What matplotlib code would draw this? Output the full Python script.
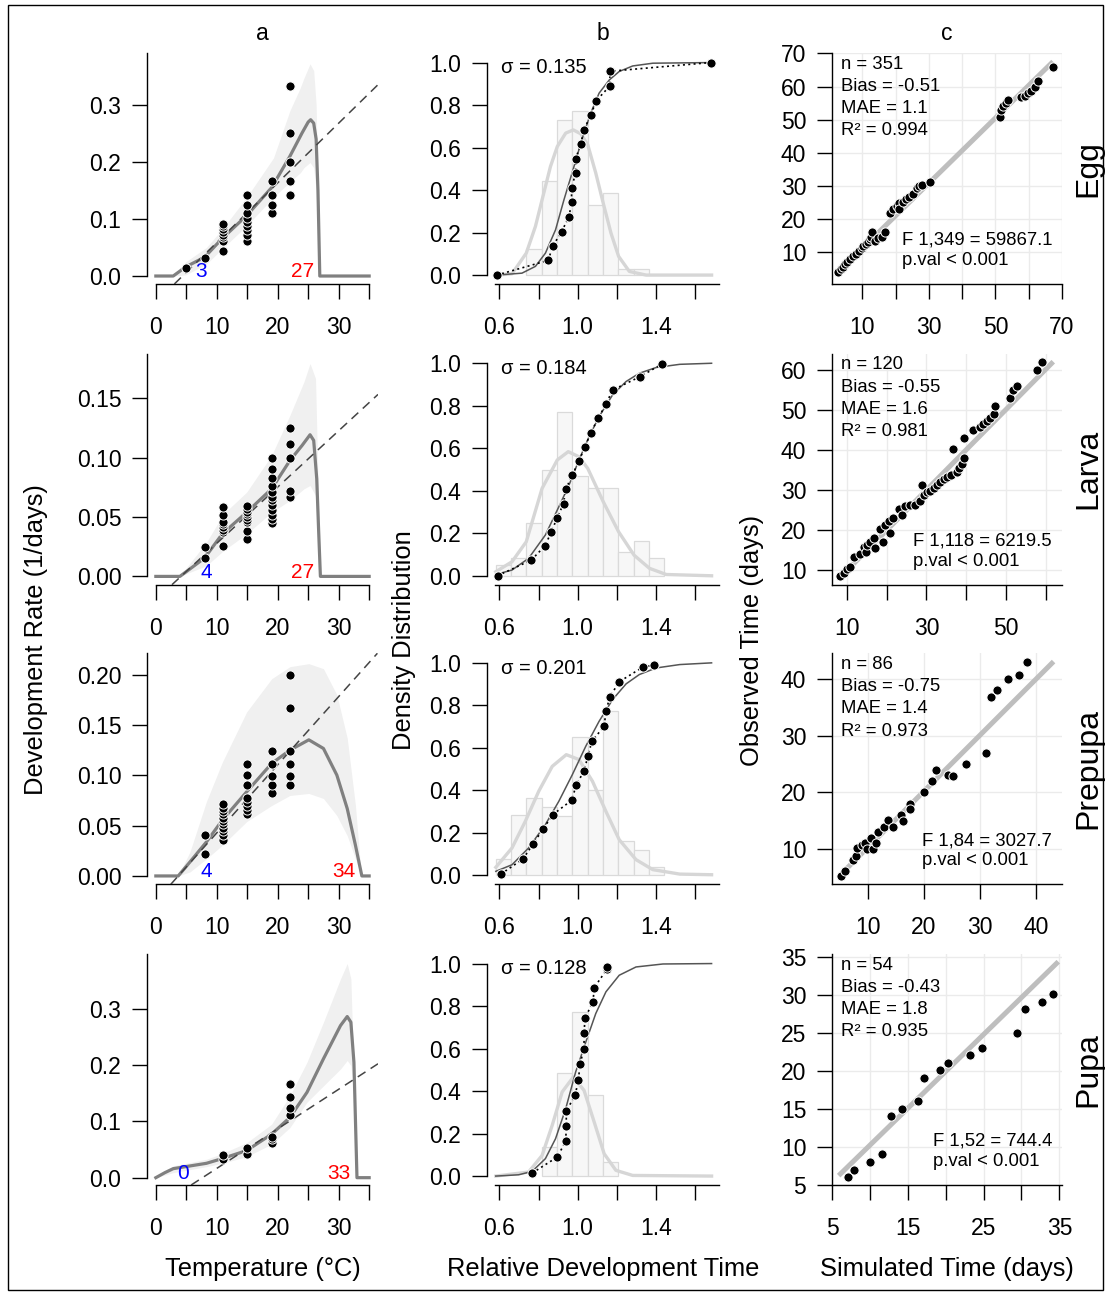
import matplotlib
matplotlib.use("Agg")
import matplotlib.pyplot as plt
from matplotlib.patches import Rectangle

plt.rcParams['font.family'] = ['Liberation Sans', 'DejaVu Sans']

stages = ["Egg", "Larva", "Prepupa", "Pupa"]

# ---------------------------------------------------------------- a: rate vs temperature
obs_temps = [
    [5, 8, 11, 15, 19, 22],
    [8, 11, 15, 19, 22],
    [8, 11, 15, 19, 22],
    [11, 15, 19, 22],
]
obs_rates = [
    [[0.0145], [0.031],
     [0.043, 0.062, 0.068, 0.072, 0.077, 0.082, 0.087, 0.092],
     [0.062, 0.072, 0.080, 0.087, 0.094, 0.101, 0.110, 0.124, 0.142],
     [0.110, 0.124, 0.142, 0.167],
     [0.142, 0.167, 0.2, 0.25, 0.334]],
    [[0.0155, 0.025],
     [0.0259, 0.0372, 0.0394, 0.0417, 0.0439, 0.0462, 0.0521, 0.0586],
     [0.0315, 0.038, 0.0456, 0.0479, 0.0501, 0.0524, 0.0546, 0.0569, 0.0592],
     [0.0448, 0.0485, 0.0518, 0.0558, 0.0603, 0.064, 0.0668, 0.071, 0.0766, 0.0831, 0.0907, 0.1],
     [0.0665, 0.0718, 0.1, 0.1113, 0.1254]],
    [[0.0222, 0.0405],
     [0.0362, 0.0411, 0.0448, 0.048, 0.0514, 0.0547, 0.058, 0.0614, 0.0647, 0.068, 0.072],
     [0.0614, 0.0657, 0.0697, 0.0736, 0.077, 0.0905, 0.1, 0.111],
     [0.0826, 0.0905, 0.0995, 0.111, 0.124],
     [0.0905, 0.0995, 0.111, 0.124, 0.1665, 0.2]],
    [[0.0327, 0.0398],
     [0.0428, 0.0535],
     [0.0624, 0.0695, 0.073],
     [0.1105, 0.124, 0.1426, 0.166]],
]

model_t = [
    [0, 2.85, 4.9, 8.0, 10.9, 14.9, 19.0, 22.0, 24.0, 25.0, 25.4, 25.9, 26.3, 26.6, 26.9, 35],
    [0, 3.95, 8.0, 10.9, 14.9, 19.0, 22.0, 24.0, 25.3, 25.9, 26.4, 26.7, 27.0, 35],
    [0, 3.67, 5.6, 8.3, 10.9, 14.9, 19.0, 22.0, 25.1, 27.5, 29.7, 31.4, 32.75, 33.8, 35],
    [0, 1.5, 2.85, 5.6, 8.3, 10.9, 14.9, 19.0, 22.0, 24.8, 27.5, 30.3, 31.4, 32.0, 32.5, 33.0, 35],
]
model_r = [
    [0, 0, 0.016, 0.033, 0.066, 0.106, 0.155, 0.21, 0.251, 0.27, 0.274, 0.268, 0.24, 0.15, 0, 0],
    [0, 0, 0.0155, 0.0358, 0.054, 0.0738, 0.0977, 0.1104, 0.1194, 0.1146, 0.0823, 0.04, 0, 0],
    [0, 0, 0.0139, 0.0338, 0.0554, 0.0836, 0.1118, 0.125, 0.1353, 0.1267, 0.1002, 0.067, 0.0305, 0, 0],
    [0, 0.009, 0.016, 0.0208, 0.0255, 0.0339, 0.0481, 0.0772, 0.107, 0.1515, 0.211, 0.27, 0.286, 0.276, 0.205, 0, 0],
]
band_t = [
    [2.85, 4.9, 8.3, 11.1, 14.9, 19.3, 22.0, 23.7, 24.3, 25.3, 25.9, 26.3, 26.7, 26.9],
    [3.9, 8.3, 11.1, 14.9, 19.0, 22.0, 24.3, 25.3, 26.2, 26.6, 27.0],
    [3.67, 5.6, 8.3, 10.9, 14.9, 19.0, 22.0, 25.1, 27.5, 29.7, 31.4, 32.75, 33.7],
    [0, 2.85, 8.3, 10.9, 14.9, 19.0, 22.0, 24.8, 27.5, 30.3, 31.4, 32.0, 32.5, 32.9],
]
band_lo = [
    [0, 0.002, 0.021, 0.05, 0.088, 0.138, 0.165, 0.181, 0.19, 0.199, 0.19, 0.15, 0.02, 0],
    [0, 0.009, 0.0217, 0.0358, 0.054, 0.064, 0.0738, 0.0766, 0.068, 0.026, 0],
    [0, 0.004, 0.017, 0.0305, 0.054, 0.07, 0.08, 0.082, 0.077, 0.06, 0.04, 0.017, 0],
    [0, 0.009, 0.0196, 0.0255, 0.0374, 0.0594, 0.089, 0.134, 0.163, 0.193, 0.208, 0.199, 0.146, 0],
]
band_hi = [
    [0, 0.025, 0.05, 0.085, 0.138, 0.207, 0.29, 0.33, 0.347, 0.372, 0.36, 0.3, 0.1, 0],
    [0, 0.0287, 0.0527, 0.071, 0.102, 0.1358, 0.164, 0.1794, 0.1668, 0.0823, 0],
    [0, 0.024, 0.074, 0.113, 0.163, 0.196, 0.208, 0.211, 0.206, 0.18, 0.137, 0.07, 0],
    [0, 0.021, 0.0327, 0.043, 0.062, 0.095, 0.1456, 0.205, 0.276, 0.353, 0.38, 0.353, 0.175, 0],
]
lin_t0 = [4.38, 4.12, 3.68, 7.65]
lin_slope = [0.01046, 0.004744, 0.006774, 0.00702]
t_low = ["3", "4", "4", "0"]
t_high = ["27", "27", "34", "33"]

# ---------------------------------------------------------------- b: relative development time
bin_edges = [0.58, 0.659, 0.737, 0.816, 0.894, 0.973, 1.051, 1.13, 1.208, 1.287, 1.365, 1.444]
hist_h = [
    [0, 0, 0.122, 0.444, 0.73, 0.773, 0.328, 0.384, 0.028, 0.028, 0],
    [0.053, 0.082, 0.246, 0.498, 0.772, 0.469, 0.411, 0.411, 0.11, 0.163, 0.082],
    [0.078, 0.283, 0.364, 0.322, 0.281, 0.65, 0.403, 0.772, 0.16, 0.118, 0.038],
    [0, 0, 0, 0.137, 0.487, 0.77, 0.383, 0.066, 0, 0, 0],
]
norm_x = [
    [0.586, 0.664, 0.737, 0.784, 0.818, 0.861, 0.896, 0.939, 0.978, 1.016, 1.052, 1.093, 1.131, 1.171, 1.21, 1.265, 1.351, 1.686],
    [0.581, 0.664, 0.737, 0.818, 0.896, 0.952, 1.007, 1.052, 1.131, 1.21, 1.289, 1.368, 1.454, 1.686],
    [0.581, 0.664, 0.732, 0.801, 0.87, 0.942, 1.007, 1.076, 1.145, 1.213, 1.299, 1.385, 1.523, 1.686],
    [0.581, 0.749, 0.818, 0.87, 0.921, 0.978, 1.033, 1.085, 1.136, 1.196, 1.282, 1.686],
]
norm_y = [
    [0, 0.006, 0.103, 0.229, 0.354, 0.511, 0.605, 0.668, 0.683, 0.665, 0.613, 0.48, 0.339, 0.197, 0.088, 0.017, 0, 0],
    [0.019, 0.066, 0.16, 0.411, 0.545, 0.584, 0.56, 0.505, 0.349, 0.207, 0.097, 0.035, 0.006, 0],
    [0.038, 0.129, 0.254, 0.396, 0.513, 0.568, 0.545, 0.443, 0.301, 0.168, 0.074, 0.027, 0.006, 0.003],
    [0, 0.019, 0.097, 0.239, 0.396, 0.466, 0.403, 0.254, 0.105, 0.027, 0.003, 0],
]
cdf_x = [
    [0.586, 0.715, 0.784, 0.835, 0.887, 0.93, 0.978, 1.024, 1.067, 1.11, 1.162, 1.213, 1.282, 1.385, 1.686],
    [0.581, 0.664, 0.749, 0.835, 0.904, 0.956, 1.007, 1.059, 1.11, 1.179, 1.248, 1.316, 1.402, 1.523, 1.686],
    [0.581, 0.664, 0.749, 0.835, 0.904, 0.973, 1.042, 1.11, 1.179, 1.248, 1.316, 1.402, 1.523, 1.686],
    [0.581, 0.698, 0.767, 0.835, 0.887, 0.939, 0.99, 1.042, 1.093, 1.145, 1.213, 1.299, 1.437, 1.686],
]
cdf_y = [
    [0, 0.009, 0.041, 0.103, 0.213, 0.354, 0.5, 0.644, 0.762, 0.856, 0.918, 0.958, 0.984, 0.997, 1.0],
    [0.006, 0.027, 0.082, 0.192, 0.325, 0.427, 0.545, 0.655, 0.749, 0.851, 0.914, 0.953, 0.98, 0.995, 1.0],
    [0.019, 0.05, 0.129, 0.239, 0.349, 0.474, 0.608, 0.725, 0.827, 0.901, 0.945, 0.976, 0.992, 1.0],
    [0, 0.006, 0.022, 0.082, 0.176, 0.317, 0.49, 0.631, 0.765, 0.867, 0.945, 0.984, 0.998, 1.0],
]
emp_x = [
    [0.586, 0.849, 0.873, 0.918, 0.956, 0.969, 0.969, 0.99, 0.99, 1.016, 1.033, 1.067, 1.096, 1.165, 1.165, 1.681],
    [0.59, 0.763, 0.832, 0.866, 0.895, 0.928, 0.939, 0.973, 1.007, 1.038, 1.068, 1.105, 1.145, 1.179, 1.32, 1.433],
    [0.607, 0.72, 0.772, 0.823, 0.873, 0.969, 0.993, 1.033, 1.054, 1.073, 1.136, 1.145, 1.165, 1.213, 1.334, 1.39],
    [0.767, 0.895, 0.939, 0.942, 0.942, 0.987, 1.004, 1.012, 1.033, 1.033, 1.038, 1.079, 1.085, 1.15, 1.15],
]
emp_y = [
    [0, 0.069, 0.136, 0.205, 0.274, 0.343, 0.411, 0.48, 0.547, 0.616, 0.685, 0.752, 0.821, 0.89, 0.959, 1.0],
    [0, 0.074, 0.14, 0.207, 0.273, 0.339, 0.407, 0.474, 0.54, 0.608, 0.673, 0.741, 0.807, 0.874, 0.937, 0.997],
    [0.006, 0.077, 0.148, 0.218, 0.286, 0.353, 0.424, 0.493, 0.564, 0.631, 0.702, 0.772, 0.84, 0.911, 0.98, 0.989],
    [0.014, 0.089, 0.163, 0.234, 0.306, 0.38, 0.45, 0.526, 0.6, 0.673, 0.744, 0.82, 0.887, 0.973, 0.984],
]
sigmas = ["0.135", "0.184", "0.201", "0.128"]

# ---------------------------------------------------------------- c: simulated vs observed
sim_time = [
    [2.8, 3.5, 4.1, 4.8, 5.5, 6.3, 7.3, 8.1, 9.1, 9.8, 10.3, 11.1, 11.8, 12.3, 12.5, 12.8, 13.8, 14.8, 15.8, 16.8,
     18.3, 19.3, 20.3, 21.1, 21.1, 22.1, 23.1, 24.1, 25.1, 26.3, 27.1, 27.8, 30.3,
     51.3, 51.8, 52.3, 53.1, 53.9, 57.8, 58.8, 59.8, 60.8, 61.8, 62.8, 67.3],
    [8.3, 9.3, 10.0, 10.8, 11.7, 13.2, 14.2, 14.9, 15.0, 15.9, 16.7, 17.1, 18.2, 19.2, 19.6, 20.7, 20.9, 21.7,
     23.0, 23.8, 24.7, 25.9, 27.2, 28.4, 28.8, 29.4, 30.1, 30.9, 31.8, 32.6, 33.5, 34.3, 35.1, 36.1, 36.8,
     37.6, 38.3, 38.9, 39.5, 39.5, 41.7, 43.5, 44.3, 45.2, 46.0, 46.9, 47.3, 51.0, 51.7, 52.7, 57.9, 59.0],
    [5.19, 5.96, 7.33, 7.92, 8.16, 8.93, 9.52, 9.82, 10.53, 10.89, 11.49, 11.9, 12.91, 13.68, 14.58, 15.88,
     16.36, 17.55, 17.55, 20.04, 21.41, 22.12, 24.38, 25.27, 27.47, 31.03, 31.93, 33.0, 34.96, 36.92, 38.34],
    [7.11, 7.85, 10.05, 11.59, 12.82, 14.27, 16.29, 17.17, 19.19, 20.37, 23.23, 24.76, 29.37, 30.47, 32.67, 34.12],
]
obs_time = [
    [4.0, 5.0, 5.7, 6.5, 7.2, 8.0, 9.0, 9.5, 10.5, 11.2, 11.8, 12.5, 13.2, 14.0, 14.8, 16.2, 13.5, 14.5, 14.8, 16.2,
     22.0, 23.0, 24.0, 24.8, 23.2, 25.2, 26.0, 26.8, 27.5, 29.5, 30.0, 30.4, 31.2,
     50.8, 53.0, 54.2, 55.0, 55.8, 56.8, 57.2, 58.0, 58.8, 60.0, 61.8, 65.8],
    [8.5, 9.3, 10.3, 10.6, 13.1, 13.9, 15.6, 14.4, 16.2, 16.9, 17.9, 15.4, 20.2, 17.0, 21.1, 22.1, 19.1, 23.0,
     25.1, 23.6, 25.9, 26.2, 26.2, 27.1, 31.1, 28.6, 29.4, 29.8, 30.4, 31.1, 31.9, 32.8, 33.1, 33.6, 40.2,
     34.5, 35.6, 36.5, 43.0, 38.1, 44.9, 45.8, 46.6, 47.2, 47.9, 49.1, 51.0, 53.0, 55.0, 56.1, 59.9, 61.9],
    [5.1, 6.0, 8.05, 8.7, 10.1, 10.7, 11.06, 10.0, 11.9, 10.0, 11.06, 12.95, 13.84, 15.0, 13.84, 15.9,
     14.84, 17.8, 16.97, 20.04, 21.93, 23.94, 23.0, 22.9, 24.94, 27.0, 36.9, 38.06, 39.95, 40.8, 42.96],
    [6.01, 6.98, 7.99, 9.08, 14.0, 15.01, 16.02, 19.05, 20.06, 21.07, 22.04, 23.05, 25.03, 28.1, 29.07, 30.08],
]
fit_x = [[2.1, 67.3], [8.7, 61.9], [5.07, 43.1], [5.88, 34.86]]
fit_y = [[3.5, 67.5], [8.5, 62.1], [5.27, 43.1], [6.23, 34.34]]
stat_n = ["351", "120", "86", "54"]
stat_bias = ["-0.51", "-0.55", "-0.75", "-0.43"]
stat_mae = ["1.1", "1.6", "1.4", "1.8"]
stat_r2 = ["0.994", "0.981", "0.973", "0.935"]
stat_f = ["F 1,349 = 59867.1", "F 1,118 = 6219.5", "F 1,84 = 3027.7", "F 1,52 = 744.4"]

# ---------------------------------------------------------------- layout (pixels)
W, H = 1107, 1293
fig = plt.figure(figsize=(W / 100, H / 100), dpi=100)

row_top = [53, 353.7, 653.3, 954]
row_h = 231
col_left = [147, 487, 832]
col_w = [231, 232, 230]

TICK = 16.5
tick_kw = dict(direction="out", length=10.5, width=1.0, labelsize=TICK, colors="black")


def add_ax(col, row):
    l, t = col_left[col], row_top[row]
    return fig.add_axes([l / W, 1 - (t + row_h) / H, col_w[col] / W, row_h / H])


def pts(ax, x, y, ms=6.6):
    ax.plot(x, y, "o", ms=ms, mfc="black", mec="white", mew=0.7, zorder=5, clip_on=False)


ylim_a = [(-0.014, 0.391), (-0.007, 0.1877), (-0.0083, 0.2213), (-0.013, 0.397)]
yticks_a = [[0, 0.1, 0.2, 0.3], [0, 0.05, 0.10, 0.15], [0, 0.05, 0.10, 0.15, 0.20], [0, 0.1, 0.2, 0.3]]
yfmt_a = ["{:.1f}", "{:.2f}", "{:.2f}", "{:.1f}"]
low_x = [7.4, 8.3, 8.3, 4.4]
high_x = [24.0, 24.0, 30.9, 30.0]

lim_c = [((0.9, 69.9), (0.5, 70.1)), ((6.25, 64.1), (6.25, 64.1)),
         ((3.65, 44.6), (3.67, 44.56)), ((5.0, 35.35), (5.0, 35.35))]
ticks_c = [list(range(10, 71, 10)), list(range(10, 61, 10)), list(range(10, 41, 10)), list(range(5, 36, 5))]
xlab_c = [[10, 30, 50, 70], [10, 30, 50], [10, 20, 30, 40], [5, 15, 25, 35]]

for r in range(4):
    # ---- column a
    ax = add_ax(0, r)
    ax.fill_between(band_t[r], band_lo[r], band_hi[r], color="#F0F0F0", lw=0, zorder=1)
    ax.axline((lin_t0[r], 0), slope=lin_slope[r], color="#444444", lw=1.1, ls=(0, (6, 4)), zorder=3)
    ax.plot(model_t[r], model_r[r], color="#808080", lw=2.3, zorder=2, solid_joinstyle="round")
    for t, rates in zip(obs_temps[r], obs_rates[r]):
        pts(ax, [t] * len(rates), rates)
    ax.annotate(t_low[r], (low_x[r], 0), xytext=(0, 3), textcoords="offset points",
                ha="center", va="center", color="blue", fontsize=15, zorder=6)
    ax.annotate(t_high[r], (high_x[r], 0), xytext=(0, 3), textcoords="offset points",
                ha="center", va="center", color="red", fontsize=15, zorder=6)
    ax.set_xlim(-1.45, 36.45)
    ax.set_ylim(*ylim_a[r])
    ax.set_xticks(range(0, 36, 5))
    ax.set_xticklabels(["0", "", "10", "", "20", "", "30", ""])
    ax.set_yticks(yticks_a[r])
    ax.set_yticklabels([yfmt_a[r].format(v) for v in yticks_a[r]])
    for s in ("top", "right"):
        ax.spines[s].set_visible(False)
    ax.spines["left"].set_bounds(0, ylim_a[r][1])
    ax.spines["bottom"].set_bounds(0, 35)

    # ---- column b
    ax = add_ax(1, r)
    for i, h in enumerate(hist_h[r]):
        if h > 0:
            ax.bar(bin_edges[i], h, width=bin_edges[i + 1] - bin_edges[i], align="edge",
                   color="#F7F7F7", edgecolor="#DADADA", lw=0.9, zorder=1)
    ax.plot(norm_x[r], norm_y[r], color="#D6D6D6", lw=2.4, zorder=2)
    ax.plot(cdf_x[r], cdf_y[r], color="#555555", lw=1.1, zorder=3)
    ax.plot(emp_x[r], emp_y[r], color="black", lw=1.2, ls=(0, (1.2, 2)), zorder=4)
    pts(ax, emp_x[r], emp_y[r])
    ax.text(0.61, 0.975, "\u03c3 = " + sigmas[r], fontsize=14.5, ha="left", va="center", zorder=6)
    ax.set_xlim(0.536, 1.724)
    ax.set_ylim(-0.042, 1.045)
    ax.set_xticks([0.6, 0.8, 1.0, 1.2, 1.4, 1.6])
    ax.set_xticklabels(["0.6", "", "1.0", "", "1.4", ""])
    ax.set_yticks([0, 0.2, 0.4, 0.6, 0.8, 1.0])
    ax.set_yticklabels(["0.0", "0.2", "0.4", "0.6", "0.8", "1.0"])
    for s in ("top", "right"):
        ax.spines[s].set_visible(False)
    ax.spines["left"].set_bounds(0, 1)
    ax.spines["bottom"].set_bounds(0.578, 1.724)

    # ---- column c
    ax = add_ax(2, r)
    ax.set_axisbelow(True)
    ax.grid(True, color="#EBEBEB", lw=1.0)
    ax.plot(fit_x[r], fit_y[r], color="#BEBEBE", lw=3.6, solid_capstyle="butt", zorder=2)
    pts(ax, sim_time[r], obs_time[r])
    ax.set_xlim(*lim_c[r][0])
    ax.set_ylim(*lim_c[r][1])
    ax.set_xticks(ticks_c[r])
    ax.set_xticklabels([str(v) if v in xlab_c[r] else "" for v in ticks_c[r]])
    ax.set_yticks(ticks_c[r])
    ax.set_yticklabels([str(v) for v in ticks_c[r]])
    for s in ("top", "right"):
        ax.spines[s].set_visible(False)
    lines = ["n = " + stat_n[r], "Bias = " + stat_bias[r], "MAE = " + stat_mae[r], "R\u00b2 = " + stat_r2[r]]
    for k, line in enumerate(lines):
        ax.text(0.039, 0.952 - k * 0.0965, line, transform=ax.transAxes, fontsize=13.3,
                ha="left", va="center", zorder=6)
    ax.text(0.957, 0.145, stat_f[r] + "\np.val < 0.001", transform=ax.transAxes, fontsize=13.3,
            ha="right", va="center", multialignment="left", linespacing=1.25, zorder=6)

for a in fig.axes:
    a.tick_params(**tick_kw)
    a.tick_params(axis="x", pad=12.5)
    a.tick_params(axis="y", pad=8)
    for s in ("left", "bottom"):
        a.spines[s].set_linewidth(1.0)

# column titles, stage labels, axis titles
for x, lab in zip([262.5, 603, 947], ["a", "b", "c"]):
    fig.text(x / W, 1 - 33 / H, lab, fontsize=TICK, ha="center", va="center")
for r, st in enumerate(stages):
    fig.text(1088 / W, 1 - (row_top[r] + row_h / 2) / H, st, fontsize=23, rotation=90,
             ha="center", va="center")
for x, lab in zip([262.5, 603, 947], ["Temperature (\u00b0C)", "Relative Development Time",
                                       "Simulated Time (days)"]):
    fig.text(x / W, 1 - 1269 / H, lab, fontsize=18.4, ha="center", va="center")
for x, lab in zip([36, 404, 752], ["Development Rate (1/days)", "Density Distribution",
                                   "Observed Time (days)"]):
    fig.text(x / W, 1 - 640 / H, lab, fontsize=18.4, rotation=90, ha="center", va="center")

fig.add_artist(Rectangle((8 / W, 1 - 1290 / H), (1103 - 8) / W, (1290 - 5) / H,
                         transform=fig.transFigure, fill=False, lw=1.0, color="black"))

fig.savefig("out.png", dpi=100)
